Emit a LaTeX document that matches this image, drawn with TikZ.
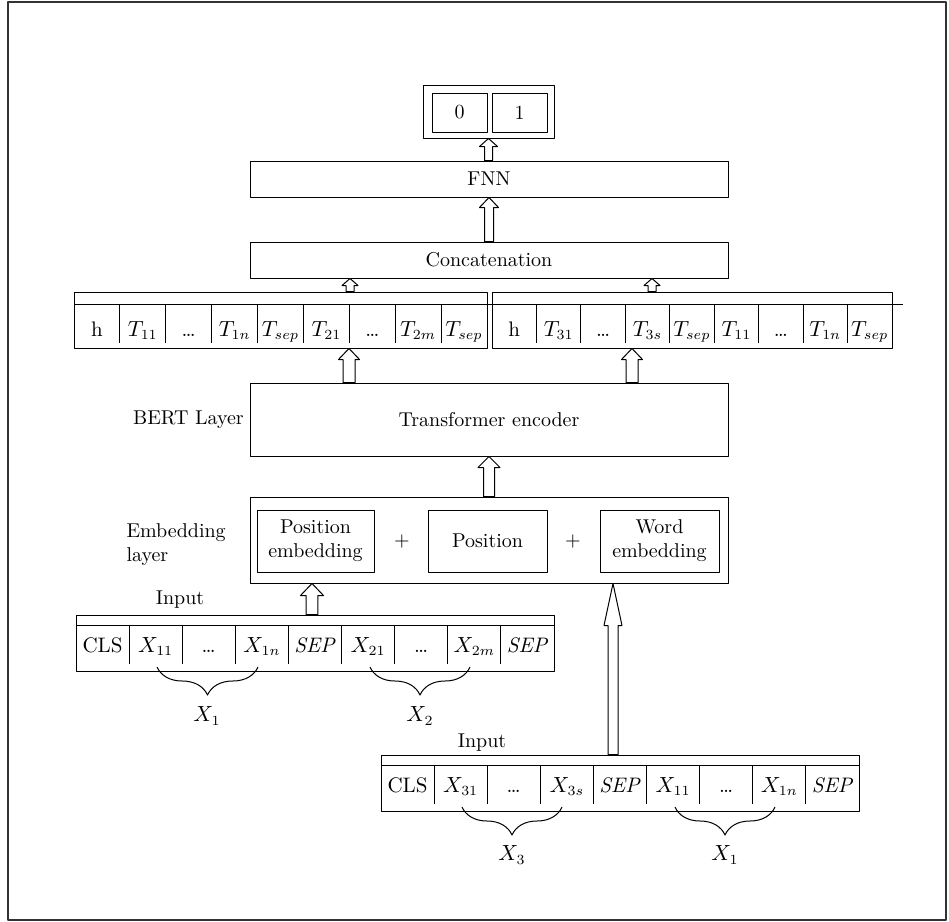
\documentclass[tikz,border=0pt]{standalone}
\usepackage{amsmath,amssymb}
\usepackage{xcolor}
\usepackage{tikz}
\usetikzlibrary{calc,fit,decorations.pathreplacing}

% hollow block arrow: from, to, shaft half width, head half width, head length
\newcommand{\blockarrow}[5]{%
  \draw[fill=white] let \p1=(#1), \p2=(#2) in
    (\x2-#3,\y1) -- (\x2-#3,\y2-#5) -- (\x2-#4,\y2-#5) -- (\x2,\y2)
    -- (\x2+#4,\y2-#5) -- (\x2+#3,\y2-#5) -- (\x2+#3,\y1) -- cycle;}

\tikzset{
  box/.style={draw,inner sep=0pt},
  txt/.style={label={[align=center]center:{#1}}},
  cellfont/.style={font=\fontsize{10.5}{12}\selectfont},
  brc/.style={decorate,decoration={brace,mirror,amplitude=14pt}},
}

\begin{document}
\begin{tikzpicture}[x=0.5pt,y=-0.5pt,line join=round,line width=0.5pt]
  \useasboundingbox (0,0) rectangle (949,922);
  \draw[line width=1pt,black!80] (8,2) rectangle (946,920);

  % output
  \node[box,fit={(423,85)(554,138)}] (out) {};
  \node[box,fit={(432,93)(487,132)},txt=0] (o0) {};
  \node[box,fit={(492,93)(547,132)},txt=1] (o1) {};
  \node[box,fit={(250,161)(728,197)},txt=FNN] (fnn) {};
  \node[box,fit={(250,242)(728,278)},txt=Concatenation] (concat) {};

  % token outputs
  \node[box,fit={(74,292)(487,348)}] (tleft) {};
  \node[box,fit={(492,292)(892,348)}] (tright) {};
  \draw (74,304) -- (903,304);
  \foreach \t [count=\i] in {h,$T_{11}$,\ldots,$T_{1n}$,$T_{sep}$,$T_{21}$,\ldots,$T_{2m}$,$T_{sep}$}
    \node[anchor=base,cellfont] (tl\i) at ({74+(\i-0.5)*45.89},336) {\t};
  \foreach \t [count=\i] in {h,$T_{31}$,\ldots,$T_{3s}$,$T_{sep}$,$T_{11}$,\ldots,$T_{1n}$,$T_{sep}$}
    \node[anchor=base,cellfont] (tr\i) at ({492+(\i-0.5)*44.44},336) {\t};
  \foreach \i in {1,...,8} {
    \draw ({74+\i*45.89},304) -- ++(0,39);
    \draw ({492+\i*44.44},304) -- ++(0,39);
  }

  % BERT
  \node[box,fit={(250,383)(728,456)},txt=Transformer encoder] (trans) {};
  \node[anchor=base west] (bert) at (126,424) {BERT Layer};

  % embedding
  \node[box,fit={(250,497)(728,583)}] (emb) {};
  \node[box,fit={(257,510)(374,572)},txt=Position\\embedding] (pose) {};
  \node[box,fit={(428,510)(547,572)},txt=Position] (pos) {};
  \node[box,fit={(600,510)(719,572)},txt=Word\\embedding] (worde) {};
  \node (plus1) at (402,541) {+};
  \node (plus2) at (573,541) {+};
  \node[anchor=north west,align=left,inner sep=0pt] (emblbl) at (126,523) {Embedding\\layer};

  % first input
  \node[anchor=base] (inalbl) at (180,604) {Input};
  \node[box,fit={(76,615)(554,671)}] (ina) {};
  \draw (76,625) -- (554,625);
  \foreach \t [count=\i] in {CLS,$X_{11}$,\ldots,$X_{1n}$,\textit{SEP},$X_{21}$,\ldots,$X_{2m}$,\textit{SEP}}
    \node[anchor=base,cellfont] (xa\i) at ({76+(\i-0.5)*53.11},652) {\t};
  \foreach \i in {1,...,8}
    \draw ({76+\i*53.11},625) -- ++(0,39);
  \draw[brc] (157,667) -- (258,667);
  \draw[brc] (370,667) -- (470,667);
  \node[cellfont] (xone) at (207,716) {$X_1$};
  \node[cellfont] (xtwo) at (420,716) {$X_2$};

  % second input
  \node[anchor=base] (inblbl) at (482,747) {Input};
  \node[box,fit={(381,755)(859,811)}] (inb) {};
  \draw (381,765) -- (859,765);
  \foreach \t [count=\i] in {CLS,$X_{31}$,\ldots,$X_{3s}$,\textit{SEP},$X_{11}$,\ldots,$X_{1n}$,\textit{SEP}}
    \node[anchor=base,cellfont] (xb\i) at ({381+(\i-0.5)*53.11},792) {\t};
  \foreach \i in {1,...,8}
    \draw ({381+\i*53.11},765) -- ++(0,39);
  \draw[brc] (462,807) -- (562,807);
  \draw[brc] (675,807) -- (775,807);
  \node[cellfont] (xthree) at (512,855) {$X_3$};
  \node[cellfont] (xonebis) at (725,855) {$X_1$};

  % arrows
  \coordinate (ca) at (350,0);
  \coordinate (cb) at (652,0);
  \coordinate (cc) at (349,0);
  \coordinate (cd) at (632,0);
  \coordinate (ce) at (312,0);
  \coordinate (cf) at (613,0);
  \blockarrow{fnn.north -| out.south}{out.south}{2pt}{4.5pt}{4pt}
  \blockarrow{concat.north}{fnn.south}{2.25pt}{4.75pt}{5pt}
  \blockarrow{tleft.north -| ca}{concat.south -| ca}{2pt}{4pt}{3.5pt}
  \blockarrow{tright.north -| cb}{concat.south -| cb}{2pt}{4pt}{3.5pt}
  \blockarrow{trans.north -| cc}{tleft.south -| cc}{3pt}{5.25pt}{5.5pt}
  \blockarrow{trans.north -| cd}{tright.south -| cd}{3pt}{5.25pt}{5.5pt}
  \blockarrow{emb.north}{trans.south}{2.75pt}{5.5pt}{5.5pt}
  \blockarrow{ina.north -| ce}{emb.south -| ce}{2.9pt}{5.75pt}{6pt}
  \blockarrow{inb.north -| cf}{emb.south -| cf}{2.5pt}{4.5pt}{21pt}
\end{tikzpicture}
\end{document}
